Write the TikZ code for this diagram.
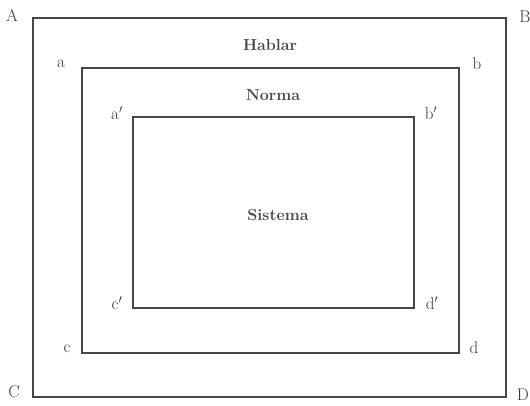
\documentclass[tikz,border=0pt]{standalone}
\begin{document}
\begin{tikzpicture}[x=1pt, y=-1pt,
  frame/.style={draw=black!72, line width=1.15pt},
  corner/.style={font=\fontsize{17}{20}\selectfont, text=black!78, inner sep=0pt},
  level/.style={font=\fontsize{16}{19}\selectfont\bfseries, text=black!72, inner sep=0pt}]
  \useasboundingbox (0,0) rectangle (530,405);
  % three nested frames
  \draw[frame] (33,18) rectangle (506,397);
  \draw[frame] (82,68) rectangle (459,353);
  \draw[frame] (133,117) rectangle (414,308);
  % corner letters
  \node[corner] (A) at (12,15) {A};
  \node[corner] (B) at (525,17) {B};
  \node[corner] (C) at (14,392) {C};
  \node[corner] (D) at (523,395) {D};
  \node[corner] (a) at (61,64) {a};
  \node[corner] (b) at (477,64) {b};
  \node[corner] (c) at (67,349) {c};
  \node[corner] (d) at (474,348) {d};
  \node[corner] (a1) at (117,113) {a$'$};
  \node[corner] (b1) at (431,113) {b$'$};
  \node[corner] (c1) at (117,303) {c$'$};
  \node[corner] (d1) at (432,303) {d$'$};
  % level names
  \node[level] (hablar) at (270,45) {Hablar};
  \node[level] (norma) at (273,95) {Norma};
  \node[level] (sistema) at (278,215) {Sistema};
\end{tikzpicture}
\end{document}
